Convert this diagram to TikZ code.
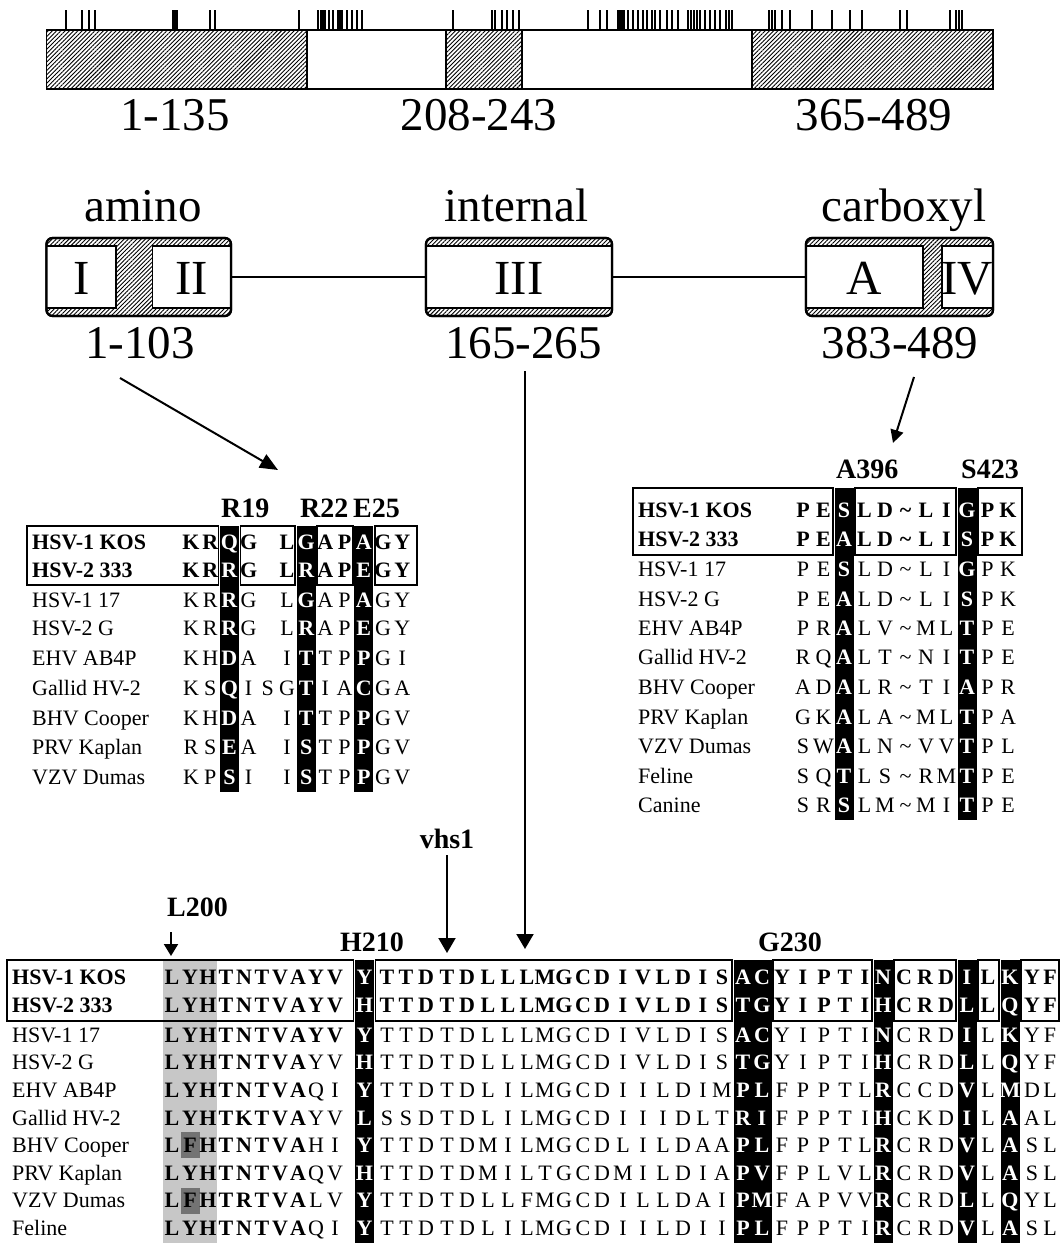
\documentclass[tikz,border=0pt]{standalone}
\usepackage{fontspec}
\setmainfont{Liberation Serif}
\usetikzlibrary{arrows.meta,patterns.meta}
\begin{document}
\begin{tikzpicture}[x=1pt,y=-1pt,
  hatch/.style={pattern={Lines[angle=45,distance=3pt,line width=0.9pt]}},
  big/.style={font=\fontsize{47}{50}\selectfont,inner sep=0pt,anchor=base},
  rom/.style={font=\fontsize{49}{52}\selectfont,inner sep=0pt,anchor=base},
  lab/.style={font=\fontsize{28}{30}\selectfont\bfseries,inner sep=0pt,anchor=base},
  labw/.style={lab,anchor=base west},
  nm/.style={font=\fontsize{22}{24}\selectfont,inner sep=0pt,anchor=base west},
  res/.style={font=\fontsize{22}{24}\selectfont,inner sep=0pt,anchor=base},
  arr/.style={line width=2pt,-{Triangle[length=15pt,width=17pt]}},
  tk/.style={line width=1.3pt},
  dbox/.style={draw,line width=2.2pt,rounded corners=6pt,hatch,inner sep=0pt,outer sep=0pt},
  ibox/.style={draw,fill=white,line width=1.5pt},
  seg/.style={draw,line width=1.5pt},
  blk/.style={fill=black},
  link/.style={line width=1.8pt},
]
\useasboundingbox (0,0) rectangle (1062,1250);
\fill[white] (0,0) rectangle (1062,1250);

% ---------- top bar ----------
\fill[hatch] (46.5,30) rectangle (307,89);
\fill[hatch] (446,30) rectangle (522,89);
\fill[hatch] (752,30) rectangle (993,89);
\draw[line width=1.6pt] (46.5,30) rectangle (993,89);
\foreach \x in {307,446,522,752} \draw[line width=1.6pt] (\x,30) -- (\x,89);
\foreach \t in {66,82,89,95,173,175,177,210,215,299,318,321,323,325,329,333,338,340,342,347,352,357,362,453,492,495,502,507,513,519,588,600,607,618,620,622,624,628,633,638,643,647,652,655,660,667,672,678,688,691,694,697,700,705,710,715,720,726,729,732,769,772,775,782,790,812,832,850,862,900,907,950,956,959,962}
  \draw[tk] (\t,10) -- (\t,30);
\node[big] (r1) at (175,130) {1-135};
\node[big] (r2) at (479,130) {208-243};
\node[big] (r3) at (874,130) {365-489};

% ---------- domains ----------
\node[big] (tam) at (143,221) {amino};
\node[big] (tin) at (516.5,221) {internal};
\node[big] (tca) at (904,221) {carboxyl};

\node[dbox,minimum width=184.5pt,minimum height=78pt] (amino) at (138.75,277) {};
\node[dbox,minimum width=186pt,minimum height=78pt] (internal) at (519,277) {};
\node[dbox,minimum width=187pt,minimum height=78pt] (carboxyl) at (899.5,277) {};
\draw[ibox] (46.5,246) rectangle (116,308);
\draw[ibox] (152.5,246) rectangle (231,308);
\draw[ibox] (426,246) rectangle (612,308);
\draw[ibox] (806,246) rectangle (923,308);
\draw[ibox] (942,246) rectangle (993,308);
\foreach \b in {amino,internal,carboxyl}
  \draw[line width=2.2pt,rounded corners=6pt] (\b.north west) rectangle (\b.south east);
\node[rom] (nI) at (81.25,294) {I};
\node[rom] (nII) at (191.75,294) {II};
\node[rom] (nIII) at (519,294) {III};
\node[rom] (nA) at (864.5,294) {A};
\node[rom] (nIV) at (967.5,294) {IV};
\draw[link] (amino.east) -- (internal.west);
\draw[link] (internal.east) -- (carboxyl.west);
\node[big] (ram) at (140,358) {1-103};
\node[big] (rin) at (523.5,358) {165-265};
\node[big] (rca) at (900,358) {383-489};

% ---------- arrows ----------
\coordinate (aS) at (120,378);
\coordinate (aE) at (278,470);
\draw[line width=2pt,-{Triangle[length=18pt,width=15pt]}] (aS) -- (aE);
\coordinate (cS) at (914,377);
\coordinate (cE) at (893,443);
\draw[line width=2pt,-{Triangle[length=13pt,width=13pt]}] (cS) -- (cE);
\coordinate (iS) at (525,371);
\coordinate (iE) at (525,949);
\draw[arr] (iS) -- (iE);

% ---------- left alignment ----------
\foreach \c in {3,7,10}
  \fill[blk] ({191+19.2*(\c-1)-9.5},526) rectangle ({191+19.2*(\c-1)+9.5},792);
\foreach \a/\b in {27/218.4,240.4/295.2,317.2/352.8,374.8/417}
  \draw[seg] (\a,526) rectangle (\b,585);
\node[labw] (R19) at (221,517) {R19};
\node[labw] (R22) at (300,517) {R22};
\node[labw] (E25) at (353,517) {E25};
\foreach \nmtxt/\bb/\yc/\sq [count=\r] in {
 {HSV-1 KOS}/1/542/{K,R,Q,G,{},L,G,A,P,A,G,Y},
 {HSV-2 333}/1/570/{K,R,R,G,{},L,R,A,P,E,G,Y},
 {HSV-1 17}/0/600/{K,R,R,G,{},L,G,A,P,A,G,Y},
 {HSV-2 G}/0/628/{K,R,R,G,{},L,R,A,P,E,G,Y},
 {EHV AB4P}/0/658/{K,H,D,A,{},I,T,T,P,P,G,I},
 {Gallid HV-2}/0/688/{K,S,Q,I,S,G,T,I,A,C,G,A},
 {BHV Cooper}/0/718/{K,H,D,A,{},I,T,T,P,P,G,V},
 {PRV Kaplan}/0/747/{R,S,E,A,{},I,S,T,P,P,G,V},
 {VZV Dumas}/0/777/{K,P,S,I,{},I,S,T,P,P,G,V}}{
  \pgfmathsetmacro\yb{\yc+7.3}
  \node[nm] (ln\r) at (32,\yb) {\ifnum\bb=1 \bfseries\fi\nmtxt};
  \foreach \ch [count=\i] in \sq {
    \def\blk{0}
    \ifnum\i=3 \def\blk{1}\fi
    \ifnum\i=7 \def\blk{1}\fi
    \ifnum\i=10 \def\blk{1}\fi
    \pgfmathsetmacro\xx{191+19.2*(\i-1)}
    \node[res] (l\r-\i) at (\xx,\yb) {\ifnum\bb=1 \bfseries\fi\ifnum\blk=1 \bfseries\color{white}\fi\ch};
  }
}

% ---------- right alignment ----------
\foreach \c in {3,9}
  \fill[blk] ({803+20.5*(\c-1)-9.5},488) rectangle ({803+20.5*(\c-1)+9.5},820);
\foreach \a/\b in {633/833,855/956,978/1022}
  \draw[seg] (\a,488) rectangle (\b,555);
\node[labw] (A396) at (836,478) {A396};
\node[labw] (S423) at (961,478) {S423};
\foreach \nmtxt/\bb/\yc/\sq [count=\r] in {
 {HSV-1 KOS}/1/510/{P,E,S,L,D,\textasciitilde,L,I,G,P,K},
 {HSV-2 333}/1/539/{P,E,A,L,D,\textasciitilde,L,I,S,P,K},
 {HSV-1 17}/0/569/{P,E,S,L,D,\textasciitilde,L,I,G,P,K},
 {HSV-2 G}/0/599/{P,E,A,L,D,\textasciitilde,L,I,S,P,K},
 {EHV AB4P}/0/628/{P,R,A,L,V,\textasciitilde,M,L,T,P,E},
 {Gallid HV-2}/0/657/{R,Q,A,L,T,\textasciitilde,N,I,T,P,E},
 {BHV Cooper}/0/687/{A,D,A,L,R,\textasciitilde,T,I,A,P,R},
 {PRV Kaplan}/0/717/{G,K,A,L,A,\textasciitilde,M,L,T,P,A},
 {VZV Dumas}/0/746/{S,W,A,L,N,\textasciitilde,V,V,T,P,L},
 {Feline}/0/776/{S,Q,T,L,S,\textasciitilde,R,M,T,P,E},
 {Canine}/0/805/{S,R,S,L,M,\textasciitilde,M,I,T,P,E}}{
  \pgfmathsetmacro\yb{\yc+7.3}
  \node[nm] (rn\r) at (638,\yb) {\ifnum\bb=1 \bfseries\fi\nmtxt};
  \foreach \ch [count=\i] in \sq {
    \def\blk{0}
    \ifnum\i=3 \def\blk{1}\fi
    \ifnum\i=9 \def\blk{1}\fi
    \pgfmathsetmacro\xx{803+20.5*(\i-1)}
    \node[res] (r\r-\i) at (\xx,\yb) {\ifnum\bb=1 \bfseries\fi\ifnum\blk=1 \bfseries\color{white}\fi\ch};
  }
}

% ---------- bottom alignment ----------
\def\bxs{{172,190,208,226,244,262,280,298,316,335,364.5,387,406,426,447,467,488,508,527,545,564,583,602,623,643,663,683,703,722,743,762,782,803,824,845,865,883,904,925,946,967,988,1010,1032,1050}}
\fill[black!22] (163,960) rectangle (217,1243);
\fill[black!55] (180.5,1132.4) rectangle (199.5,1158.4);
\fill[black!55] (180.5,1187.6) rectangle (199.5,1213.6);
\foreach \a/\b in {355/374,733.5/771.5,873.5/892.5,957.5/976.5,1000.5/1019.5}
  \fill[blk] (\a,960) rectangle (\b,1243);
\foreach \a/\b in {7/353.5,375.5/732,773/872,894/956,978/999,1021/1059}
  \draw[seg] (\a,960) rectangle (\b,1021);
\node[lab] (L200) at (197.5,916) {L200};
\node[lab] (H210) at (372,951) {H210};
\node[lab] (G230) at (790,951) {G230};
\node[lab] (vhs) at (447,848) {vhs1};
\coordinate (vS) at (447,855);
\coordinate (vE) at (447,953);
\draw[arr] (vS) -- (vE);
\coordinate (lS) at (171,932);
\coordinate (lE) at (171,956);
\draw[line width=2pt,-{Triangle[length=12pt,width=14pt]}] (lS) -- (lE);
\foreach \nmtxt/\bb/\nb/\yc/\sq [count=\r] in {
 {HSV-1 KOS}/1/45/977/{L,Y,H,T,N,T,V,A,Y,V,Y,T,T,D,T,D,L,L,L,M,G,C,D,I,V,L,D,I,S,A,C,Y,I,P,T,I,N,C,R,D,I,L,K,Y,F},
 {HSV-2 333}/1/45/1005/{L,Y,H,T,N,T,V,A,Y,V,H,T,T,D,T,D,L,L,L,M,G,C,D,I,V,L,D,I,S,T,G,Y,I,P,T,I,H,C,R,D,L,L,Q,Y,F},
 {HSV-1 17}/0/10/1035/{L,Y,H,T,N,T,V,A,Y,V,Y,T,T,D,T,D,L,L,L,M,G,C,D,I,V,L,D,I,S,A,C,Y,I,P,T,I,N,C,R,D,I,L,K,Y,F},
 {HSV-2 G}/0/8/1062.6/{L,Y,H,T,N,T,V,A,Y,V,H,T,T,D,T,D,L,L,L,M,G,C,D,I,V,L,D,I,S,T,G,Y,I,P,T,I,H,C,R,D,L,L,Q,Y,F},
 {EHV AB4P}/0/8/1090.2/{L,Y,H,T,N,T,V,A,Q,I,Y,T,T,D,T,D,L,I,L,M,G,C,D,I,I,L,D,I,M,P,L,F,P,P,T,L,R,C,C,D,V,L,M,D,L},
 {Gallid HV-2}/0/8/1117.8/{L,Y,H,T,K,T,V,A,Y,V,L,S,S,D,T,D,L,I,L,M,G,C,D,I,I,I,D,L,T,R,I,F,P,P,T,I,H,C,K,D,I,L,A,A,L},
 {BHV Cooper}/0/8/1145.4/{L,F,H,T,N,T,V,A,H,I,Y,T,T,D,T,D,M,I,L,M,G,C,D,L,I,L,D,A,A,P,L,F,P,P,T,L,R,C,R,D,V,L,A,S,L},
 {PRV Kaplan}/0/8/1173/{L,Y,H,T,N,T,V,A,Q,V,H,T,T,D,T,D,M,I,L,T,G,C,D,M,I,L,D,I,A,P,V,F,P,L,V,L,R,C,R,D,V,L,A,S,L},
 {VZV Dumas}/0/8/1200.6/{L,F,H,T,R,T,V,A,L,V,Y,T,T,D,T,D,L,L,F,M,G,C,D,I,L,L,D,A,I,P,M,F,A,P,V,V,R,C,R,D,L,L,Q,Y,L},
 {Feline}/0/8/1228.2/{L,Y,H,T,N,T,V,A,Q,I,Y,T,T,D,T,D,L,I,L,M,G,C,D,I,I,L,D,I,I,P,L,F,P,P,T,I,R,C,R,D,V,L,A,S,L}}{
  \pgfmathsetmacro\yb{\yc+7.3}
  \node[nm] (bn\r) at (12,\yb) {\ifnum\bb=1 \bfseries\fi\nmtxt};
  \foreach \ch [count=\i] in \sq {
    \def\blk{0}
    \ifnum\i=11 \def\blk{1}\fi
    \ifnum\i=30 \def\blk{1}\fi
    \ifnum\i=31 \def\blk{1}\fi
    \ifnum\i=37 \def\blk{1}\fi
    \ifnum\i=41 \def\blk{1}\fi
    \ifnum\i=43 \def\blk{1}\fi
    \pgfmathsetmacro\xx{\bxs[\i-1]}
    \node[res] (b\r-\i) at (\xx,\yb) {\ifnum\i>\nb \else\bfseries\fi\ifnum\blk=1 \bfseries\color{white}\fi\ch};
  }
}
\end{tikzpicture}
\end{document}
